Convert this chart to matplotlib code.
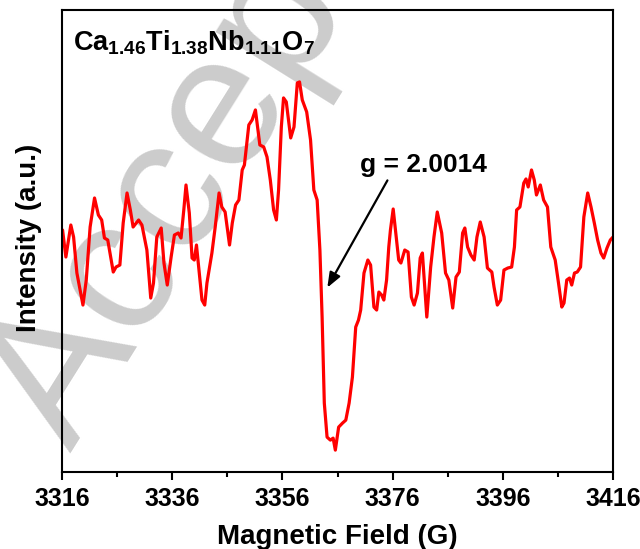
import matplotlib
matplotlib.use('Agg')
import matplotlib.pyplot as plt

plt.rcParams['font.family'] = ['Liberation Sans', 'DejaVu Sans']
plt.rcParams['font.weight'] = 'bold'
plt.rcParams['mathtext.fontset'] = 'custom'
plt.rcParams['mathtext.bf'] = 'Liberation Sans:bold'
plt.rcParams['mathtext.rm'] = 'Liberation Sans:bold'

# EPR spectrum (field in G, intensity in a.u.)
field = [3316.0, 3316.1, 3316.7, 3317.6, 3318.1, 3318.7, 3319.8, 3320.4, 3321.1, 3321.9,
         3322.6, 3323.2, 3323.7, 3324.3, 3325.3, 3325.8, 3326.5, 3327.1, 3327.8, 3328.4,
         3328.9, 3329.9, 3330.5, 3331.4, 3332.1, 3332.6, 3333.2, 3334.0, 3334.5, 3335.1,
         3335.8, 3336.4, 3337.1, 3337.6, 3338.1, 3338.5, 3339.1, 3339.6, 3340.0, 3340.4,
         3340.8, 3341.4, 3341.9, 3342.3, 3343.2, 3343.8, 3344.5, 3345.0, 3345.6, 3346.4,
         3346.9, 3347.5, 3348.1, 3348.7, 3349.1, 3349.9, 3350.5, 3351.1, 3351.9, 3352.6,
         3353.2, 3353.8, 3354.4, 3354.9, 3355.3, 3355.8, 3356.2, 3356.7, 3357.5, 3358.1,
         3358.7, 3359.1, 3359.6, 3360.4, 3361.1, 3361.7, 3362.3, 3362.8, 3363.2, 3363.6,
         3364.1, 3364.7, 3365.2, 3365.6, 3366.2, 3366.9, 3367.5, 3368.1, 3368.7, 3369.3,
         3369.8, 3370.2, 3370.8, 3371.5, 3372.0, 3372.6, 3373.1, 3373.5, 3374.0, 3374.4,
         3374.9, 3375.3, 3375.6, 3376.1, 3377.1, 3377.5, 3378.2, 3378.8, 3379.4, 3379.9,
         3380.5, 3381.0, 3381.4, 3382.2, 3382.9, 3383.5, 3384.1, 3384.9, 3385.6, 3386.2,
         3386.9, 3387.5, 3388.1, 3388.7, 3389.1, 3389.6, 3390.2, 3390.8, 3391.3, 3391.9,
         3392.6, 3393.2, 3394.0, 3394.4, 3395.0, 3395.6, 3396.2, 3396.9, 3397.6, 3398.1,
         3398.5, 3399.1, 3399.8, 3400.2, 3400.6, 3401.2, 3401.7, 3402.1, 3402.8, 3403.4,
         3404.1, 3404.7, 3405.5, 3406.1, 3406.7, 3407.1, 3407.6, 3408.1, 3408.5, 3409.0,
         3409.5, 3410.1, 3410.7, 3411.4, 3412.0, 3412.6, 3413.2, 3413.8, 3414.3, 3414.9,
         3415.5, 3416.0]
intensity = [240, 242, 215, 247, 235, 199, 167, 192, 245, 274,
             257, 252, 234, 232, 200, 205, 207, 249, 279, 262,
             245, 252, 247, 222, 174, 189, 235, 244, 209, 187,
             215, 237, 239, 234, 262, 287, 259, 214, 212, 227,
             205, 172, 167, 189, 219, 245, 279, 265, 260, 227,
             249, 267, 272, 302, 307, 347, 352, 362, 327, 325,
             315, 292, 262, 252, 282, 345, 374, 370, 334, 345,
             389, 390, 372, 360, 332, 282, 272, 222, 155, 69,
             35, 32, 34, 22, 45, 49, 52, 69, 95, 145,
             152, 162, 199, 212, 207, 165, 162, 180, 177, 172,
             192, 225, 242, 263, 212, 209, 222, 220, 175, 167,
             179, 214, 219, 155, 205, 235, 260, 239, 199, 192,
             164, 195, 200, 239, 244, 225, 217, 212, 235, 250,
             235, 204, 200, 185, 167, 172, 202, 204, 205, 225,
             262, 265, 289, 293, 285, 302, 292, 277, 287, 272,
             265, 225, 212, 189, 165, 169, 192, 194, 187, 199,
             200, 205, 255, 279, 265, 249, 232, 219, 214, 224,
             232, 235]

x_ticks = [3316, 3336, 3356, 3376, 3396, 3416]
sample = r'$\mathbf{Ca_{1.46}Ti_{1.38}Nb_{1.11}O_7}$'
g_label = 'g = 2.0014'
g_tip = (3363.9, 182)
g_tail = (3375.3, 294)

fig = plt.figure(figsize=(6.4, 5.49), dpi=100)
ax = fig.add_axes([0.0969, 0.140, 0.8610, 0.842])

ax.plot(field, intensity, color='red', lw=2.3, zorder=2)

ax.set_xlim(3316, 3416)
ax.set_ylim(0, 462)
ax.set_xticks(x_ticks)
ax.set_xticks(range(3326, 3416, 20), minor=True)
ax.set_yticks([])
ax.tick_params(axis='x', which='major', direction='out', length=6, width=1.5,
               labelsize=18, pad=5)
ax.tick_params(axis='x', which='minor', direction='out', length=3.5, width=1.5)
for s in ax.spines.values():
    s.set_linewidth(1.5)

ax.set_xlabel('Magnetic Field (G)', fontsize=20, fontweight='bold', labelpad=9)
ax.set_ylabel('Intensity (a.u.)', fontsize=20, fontweight='bold')
ax.yaxis.set_label_coords(-0.036, 0.506)

ax.text(0.02, 0.913, sample, transform=ax.transAxes, fontsize=19.5,
        ha='left', va='baseline')

ax.annotate('', xy=g_tip, xytext=g_tail,
            arrowprops=dict(arrowstyle='-|>,head_length=0.9,head_width=0.35',
                            color='black', lw=1.6))
ax.text(3381.5, 307, g_label, fontsize=19, fontweight='bold',
        ha='center', va='center')

# faint "Accepted" watermark
ax.text(0.11, 0.175, 'Accepted', transform=fig.transFigure, fontsize=137,
        fontweight='normal', color='#cccccc', rotation=58, rotation_mode='anchor',
        ha='left', va='baseline', clip_on=False, zorder=1)

fig.savefig('out.png', dpi=100)
